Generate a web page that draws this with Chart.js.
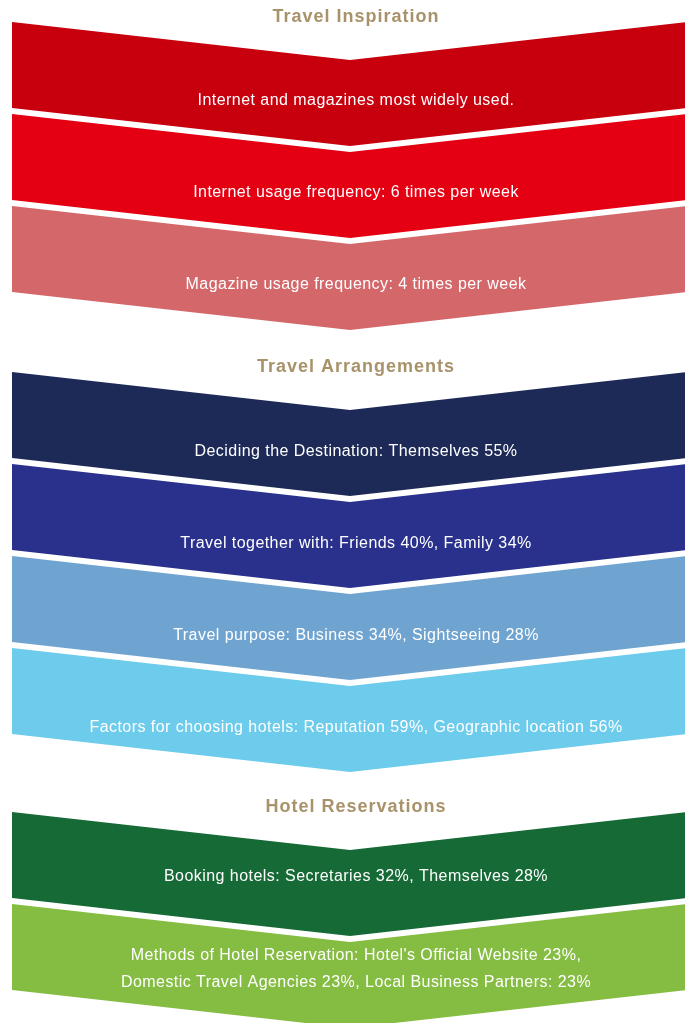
<!DOCTYPE html>
<html>
<head>
<meta charset="utf-8">
<script src="https://cdn.jsdelivr.net/npm/chart.js@4.4.1/dist/chart.umd.min.js"></script>
<style>
  html, body { margin: 0; padding: 0; background: #fff; }
  #wrap { width: 685px; height: 1023px; }
</style>
</head>
<body>
<div id="wrap"><canvas id="flow" width="685" height="1023"></canvas></div>
<script>
// ---- content ----
const sectionTitles = ['Travel Inspiration', 'Travel Arrangements', 'Hotel Reservations'];

const inspirationItems = [
  ['Internet and magazines most widely used.'],
  ['Internet usage frequency: 6 times per week'],
  ['Magazine usage frequency: 4 times per week']
];
const arrangementItems = [
  ['Deciding the Destination: Themselves 55%'],
  ['Travel together with: Friends 40%, Family 34%'],
  ['Travel purpose: Business 34%, Sightseeing 28%'],
  ['Factors for choosing hotels: Reputation 59%, Geographic location 56%']
];
const reservationItems = [
  ['Booking hotels: Secretaries 32%, Themselves 28%'],
  ['Methods of Hotel Reservation: Hotel\'s Official Website 23%,',
   'Domestic Travel Agencies 23%, Local Business Partners: 23%']
];

const inspirationColors = ['#c8000e', '#e40012', '#d4676a'];
const arrangementColors = ['#1d2a58', '#29318c', '#6fa4d1', '#6dcbeb'];
const reservationColors = ['#166a36', '#85bd42'];

const sectionItems = [inspirationItems, arrangementItems, reservationItems];
const sectionColors = [inspirationColors, arrangementColors, reservationColors];

// ---- layout (page units = px of the 685x1023 frame) ----
const L = {
  left: 12, right: 688, apex: 350, textX: 356,
  dip: 38, band: 86, gap: 6,
  sectionTop: [22, 372, 812],
  textOffset: [79, 80, 65],
  titleLift: 5,
  lineGap: 27
};

// one scatter point per chevron (its label anchor), drawn through the scales
const anchors = [];
sectionItems.forEach((items, s) => {
  items.forEach((lines, i) => {
    const top = L.sectionTop[s] + i * (L.band + L.gap);
    anchors.push({ x: L.textX, y: top + L.textOffset[s], top, lines, color: sectionColors[s][i] });
  });
});

const chevronPlugin = {
  id: 'chevrons',
  beforeDatasetsDraw(chart) {
    const { ctx, scales: { x, y } } = chart;
    const px = v => x.getPixelForValue(v);
    const py = v => y.getPixelForValue(v);
    ctx.save();
    anchors.forEach(a => {
      const t = a.top, b = a.top + L.band;
      ctx.beginPath();
      ctx.moveTo(px(L.left), py(t));
      ctx.lineTo(px(L.apex), py(t + L.dip));
      ctx.lineTo(px(L.right), py(t));
      ctx.lineTo(px(L.right), py(b));
      ctx.lineTo(px(L.apex), py(b + L.dip));
      ctx.lineTo(px(L.left), py(b));
      ctx.closePath();
      ctx.fillStyle = a.color;
      ctx.fill();
    });

    // item labels (multi-line blocks centred on the anchor)
    ctx.fillStyle = '#ffffff';
    ctx.font = '16px "Liberation Sans", Arial, sans-serif';
    ctx.letterSpacing = '0.45px';
    ctx.textAlign = 'center';
    ctx.textBaseline = 'middle';
    anchors.forEach(a => {
      const n = a.lines.length;
      a.lines.forEach((txt, k) => {
        ctx.fillText(txt, px(a.x), py(a.y + (k - (n - 1) / 2) * L.lineGap));
      });
    });

    // section titles
    ctx.fillStyle = '#a8926a';
    ctx.font = 'bold 18px "Liberation Sans", Arial, sans-serif';
    ctx.letterSpacing = '1px';
    sectionTitles.forEach((title, s) => {
      ctx.fillText(title, px(L.textX), py(L.sectionTop[s] - L.titleLift));
    });
    ctx.restore();
  }
};

new Chart(document.getElementById('flow'), {
  type: 'scatter',
  data: {
    datasets: [{
      data: anchors.map(a => ({ x: a.x, y: a.y })),
      pointRadius: 0,
      pointHoverRadius: 0
    }]
  },
  options: {
    responsive: false,
    animation: false,
    devicePixelRatio: 1,
    layout: { padding: 0 },
    events: [],
    scales: {
      x: { type: 'linear', min: 0, max: 685, display: false },
      y: { type: 'linear', min: 0, max: 1023, reverse: true, display: false }
    },
    plugins: { legend: { display: false }, tooltip: { enabled: false } }
  },
  plugins: [chevronPlugin]
});
</script>
</body>
</html>
